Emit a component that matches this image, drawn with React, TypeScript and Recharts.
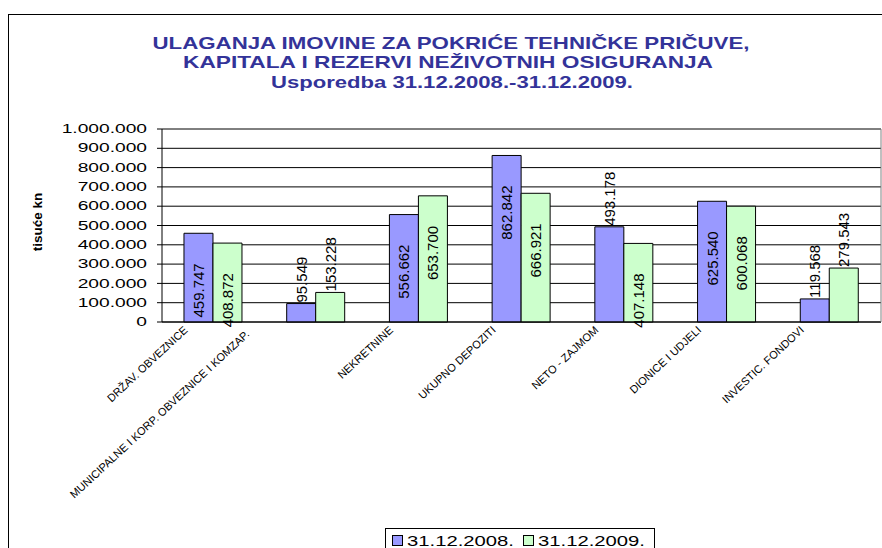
import React from "react";
import {
  BarChart,
  Bar,
  XAxis,
  YAxis,
  CartesianGrid,
  ReferenceLine,
  LabelList,
} from "recharts";

const categories = [
  "DRŽAV. OBVEZNICE",
  "MUNICIPALNE I KORP. OBVEZNICE I KOMZAP.",
  "NEKRETNINE",
  "UKUPNO DEPOZITI",
  "NETO - ZAJMOM",
  "DIONICE I UDJELI",
  "INVESTIC. FONDOVI",
];
const values2008 = [459747, 95549, 556662, 862842, 493178, 625540, 119568];
const values2009 = [408872, 153228, 653700, 666921, 407148, 600068, 279543];
const yTicks = [0, 100000, 200000, 300000, 400000, 500000, 600000, 700000, 800000, 900000, 1000000];
const seriesNames = ["31.12.2008.", "31.12.2009."];
const titleLines = [
  "ULAGANJA IMOVINE ZA POKRIĆE TEHNIČKE PRIČUVE,",
  "KAPITALA I REZERVI NEŽIVOTNIH OSIGURANJA",
  "Usporedba 31.12.2008.-31.12.2009.",
];
const yTitle = "tisuće kn";

// label placement as in the original (inside the bar or above it)
const inside2008 = [true, false, true, true, false, true, false];
const inside2009 = [true, false, true, true, true, true, false];

const BLUE = "#9999FF";
const GREEN = "#CCFFCC";
const FONT = "'Liberation Sans', Arial, sans-serif";

const data = categories.map((name, i) => ({
  name,
  v2008: values2008[i],
  v2009: values2009[i],
}));

const fmt = (v: number) =>
  String(Math.round(v)).replace(/\B(?=(\d{3})+(?!\d))/g, ".");

const YTick = (props: any) => {
  const { x, y, payload } = props;
  return (
    <text
      transform={`translate(${x},${y}) scale(1.6,1)`}
      textAnchor="end"
      dominantBaseline="central"
      fontFamily={FONT}
      fontSize={12}
      fill="#000"
    >
      {fmt(payload.value)}
    </text>
  );
};

const XTick = (props: any) => {
  const { x, payload } = props;
  const label: string = payload.value;
  const long = label.length > 30;
  const ax = x - (long ? 66 : 25);
  const ay = long ? 335 : 331;
  return (
    <text
      x={ax}
      y={ay}
      transform={`rotate(-43, ${ax}, ${ay})`}
      textAnchor="end"
      fontFamily={FONT}
      fontSize={11}
      fill="#000"
    >
      {label}
    </text>
  );
};

const makeValueLabel = (inside: boolean[]) => (props: any) => {
  const { x, y, width, value, index } = props;
  const cx = x + width / 2;
  const isIn = inside[index];
  const ty = isIn ? y + 30 : y - 1;
  return (
    <text
      x={cx}
      y={ty}
      transform={`rotate(-90, ${cx}, ${ty})`}
      textAnchor={isIn ? "end" : "start"}
      dominantBaseline="central"
      fontFamily={FONT}
      fontSize={15}
      fill="#000"
    >
      {fmt(value)}
    </text>
  );
};

export default function App() {
  const legendItems = [
    { name: seriesNames[0], color: BLUE, sx: 392, tx: 407 },
    { name: seriesNames[1], color: GREEN, sx: 523, tx: 538 },
  ];
  return (
    <div
      style={{
        position: "absolute",
        left: 0,
        top: 0,
        width: 882,
        height: 548,
        background: "#fff",
        overflow: "hidden",
      }}
    >
      <BarChart
        width={882}
        height={548}
        data={data}
        margin={{ top: 129, right: 0, bottom: 196, left: 0 }}
        barCategoryGap="21.4%"
        barGap={0}
      >
        <CartesianGrid vertical={false} stroke="#000" strokeOpacity={1} />
        <XAxis
          xAxisId="edge"
          type="number"
          domain={[0, categories.length]}
          ticks={categories.map((_, i) => i).concat([categories.length])}
          allowDataOverflow
          tick={false}
          axisLine={false}
          tickLine={{ stroke: "#000" }}
          tickSize={4}
          height={0}
        />
        <XAxis
          dataKey="name"
          interval={0}
          tickLine={false}
          axisLine={{ stroke: "#000" }}
          tick={<XTick />}
          height={30}
        />
        <YAxis
          width={162}
          domain={[0, 1000000]}
          ticks={yTicks}
          interval={0}
          axisLine={{ stroke: "#000" }}
          tickLine={{ stroke: "#000" }}
          tickSize={5}
          tickMargin={10}
          tick={<YTick />}
        />
        <YAxis
          yAxisId="right"
          orientation="right"
          width={1}
          domain={[0, 1]}
          tick={false}
          tickLine={false}
          axisLine={{ stroke: "#808080" }}
        />
        <ReferenceLine y={1000000} stroke="#808080" />
        <Bar dataKey="v2008" fill={BLUE} stroke="#000" strokeWidth={1} isAnimationActive={false}>
          <LabelList dataKey="v2008" content={makeValueLabel(inside2008)} />
        </Bar>
        <Bar dataKey="v2009" fill={GREEN} stroke="#000" strokeWidth={1} isAnimationActive={false}>
          <LabelList dataKey="v2009" content={makeValueLabel(inside2009)} />
        </Bar>
      </BarChart>

      <svg
        width={882}
        height={548}
        style={{ position: "absolute", left: 0, top: 0, pointerEvents: "none" }}
      >
        <rect x={8.5} y={14.5} width={900} height={600} fill="none" stroke="#000" />
        <g fontFamily={FONT} fontWeight="bold" fill="#333399" fontSize={17} textAnchor="middle">
          <text x={451} y={49} textLength={597} lengthAdjust="spacingAndGlyphs">
            {titleLines[0]}
          </text>
          <text x={448} y={68} textLength={530} lengthAdjust="spacingAndGlyphs">
            {titleLines[1]}
          </text>
          <text x={452} y={88} textLength={362} lengthAdjust="spacingAndGlyphs">
            {titleLines[2]}
          </text>
        </g>
        <text
          x={37}
          y={222}
          transform="rotate(-90, 37, 222)"
          textAnchor="middle"
          dominantBaseline="central"
          fontFamily={FONT}
          fontWeight="bold"
          fontSize={13.5}
          fill="#000"
        >
          {yTitle}
        </text>

        {/* legend */}
        <rect x={385.5} y={528.5} width={269} height={40} fill="#fff" stroke="#000" />
        {legendItems.map((it) => (
          <g key={it.name}>
            <rect x={it.sx + 0.5} y={535.5} width={10} height={10} fill={it.color} stroke="#000" />
            <text
              x={it.tx}
              y={546}
              fontFamily={FONT}
              fontSize={15}
              fill="#000"
              textLength={107}
              lengthAdjust="spacingAndGlyphs"
            >
              {it.name}
            </text>
          </g>
        ))}
      </svg>
    </div>
  );
}
